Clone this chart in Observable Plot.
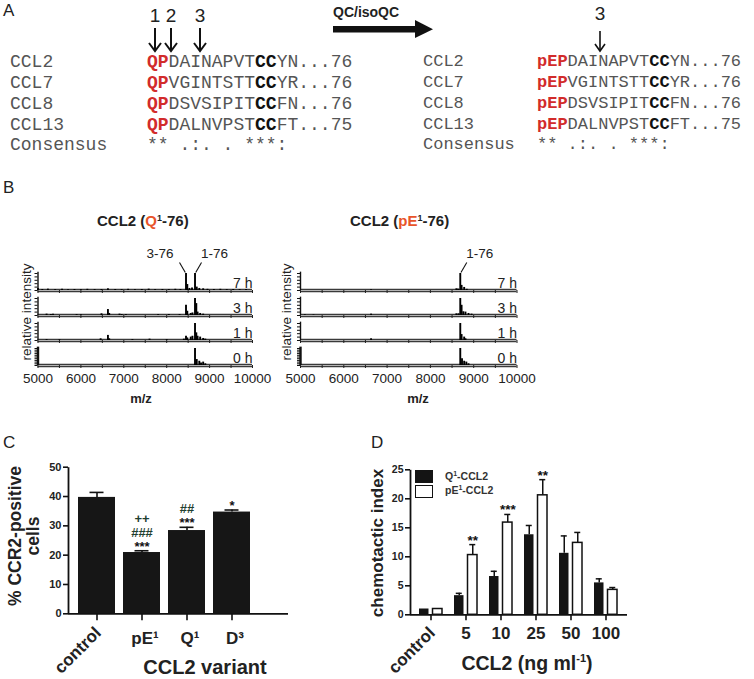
<!DOCTYPE html>
<html><head><meta charset="utf-8">
<script src="https://cdn.jsdelivr.net/npm/d3@7"></script>
<script src="https://cdn.jsdelivr.net/npm/@observablehq/plot@0.6"></script>
<style>
body{margin:0;background:#fff;}
#fig{position:relative;width:754px;height:679px;overflow:hidden;font-family:"Liberation Sans",Arial,sans-serif;color:#222;background:#fff;}
.mono{font-family:"Liberation Mono","Courier New",monospace;color:#555;white-space:pre;line-height:20px;}
.red{color:#d22b2b;font-weight:bold;}
.cc{color:#111;font-weight:bold;}
.lbl{position:absolute;white-space:nowrap;}
svg g[aria-label="y-axis tick label"] text{font-weight:bold;}
</style></head><body><div id="fig"></div>
<script>
// ---------------- data ----------------
const seqNames = ["CCL2", "CCL7", "CCL8", "CCL13"];
const seqMid = ["DAINAPVT", "VGINTSTT", "DSVSIPIT", "DALNVPST"];
const seqTail = ["YN...76", "YR...76", "FN...76", "FT...75"];
const consensusLeft = "** .:. . ***:";
const consensusRight = " ** .:. . ***:";

const timepoints = ["7 h", "3 h", "1 h", "0 h"];
// CCL2 (Q1-76) spectra: [m/z, relative intensity]
const qPeaks7h = [[5000,0.12],[5100,0.06],[5230,0.08],[5400,0.05],[5560,0.07],[5700,0.05],[5850,0.06],[6000,0.05],[6150,0.07],[6320,0.05],[6480,0.06],[6630,0.1],[6800,0.06],[6950,0.05],[7100,0.07],[7260,0.05],[7420,0.06],[7580,0.08],[7730,0.05],[7900,0.06],[8050,0.05],[8200,0.07],[8320,0.06],[8450,1.0],[8480,0.35],[8530,0.12],[8590,0.15],[8660,1.0],[8700,0.2],[8760,0.12],[8850,0.1],[8950,0.07],[9100,0.06],[9250,0.07],[9400,0.05],[9550,0.06],[9700,0.05],[9850,0.06]];
const qPeaks3h = [[5200,0.08],[5300,0.06],[5350,0.08],[5900,0.05],[6000,0.04],[6480,0.1],[6630,0.35],[6660,0.12],[6900,0.08],[6950,0.06],[7050,0.05],[7800,0.05],[8050,0.06],[8300,0.05],[8450,0.6],[8480,0.25],[8560,0.12],[8600,0.15],[8660,1.0],[8690,0.7],[8720,0.2],[8780,0.12],[8850,0.08]];
const qPeaks1h = [[5200,0.05],[5500,0.04],[6460,0.1],[6630,0.3],[6660,0.1],[7200,0.05],[7600,0.08],[8000,0.05],[8400,0.08],[8450,0.25],[8480,0.15],[8560,0.2],[8600,0.25],[8660,1.0],[8690,0.45],[8720,0.25],[8780,0.2],[8850,0.12],[8900,0.08]];
const qPeaks0h = [[8660,1.0],[8700,0.35],[8760,0.25],[8800,0.15],[8850,0.2],[8900,0.1]];
// CCL2 (pE1-76) spectra
const ePeaks7h = [[6630,0.04],[8600,0.1],[8640,0.08],[8690,1.0],[8720,0.3],[8780,0.18],[8840,0.07]];
const ePeaks3h = [[5100,0.04],[5300,0.03],[6630,0.08],[8600,0.1],[8650,0.1],[8690,1.0],[8720,0.6],[8760,0.22],[8810,0.2],[8880,0.12],[8950,0.08]];
const ePeaks1h = [[6630,0.1],[8690,1.0],[8720,0.35],[8780,0.2],[8810,0.1]];
const ePeaks0h = [[8690,1.0],[8730,0.4],[8780,0.25],[8830,0.2],[8880,0.1]];
const qLabels = [{mz: 8450, text: "3-76", side: -1}, {mz: 8660, text: "1-76", side: 1}];
const eLabels = [{mz: 8690, text: "1-76", side: 1}];

// Panel C
const variants = ["control", "pE¹", "Q¹", "D³"];
const ccr2Mean = [39.7, 20.9, 28.4, 34.7];
const ccr2Err = [1.7, 0.6, 1.1, 0.7];
const ccr2Sig = [[], ["***", "###", "++"], ["***", "##"], ["*"]];

// Panel D
const doses = ["control", "5", "10", "25", "50", "100"];
const q1Mean = [1.0, 3.3, 6.6, 13.8, 10.6, 5.5];
const q1Err = [0, 0.4, 0.9, 1.6, 3.0, 0.7];
const pe1Mean = [1.0, 10.3, 15.9, 20.6, 12.4, 4.3];
const pe1Err = [0, 1.8, 1.4, 2.7, 1.8, 0.4];
const pe1Sig = ["", "**", "***", "**", "", ""];

// ---------------- helpers ----------------
const fig = document.getElementById("fig");
function el(css, html, cls) {
  const e = document.createElement("div");
  e.className = "lbl" + (cls ? " " + cls : "");
  e.style.cssText += css;
  e.innerHTML = html;
  fig.appendChild(e);
  return e;
}
function place(svg, left, top) {
  svg.style.position = "absolute";
  svg.style.left = left + "px";
  svg.style.top = top + "px";
  fig.appendChild(svg);
}
const baseStyle = {fontFamily: "Liberation Sans, Arial, sans-serif", color: "#222", background: "none", overflow: "visible", maxWidth: "none"};

// ---------------- Panel A ----------------
el("left:3px;top:1px;font-size:17px;", "A");
const rowCenters = [62, 83, 104, 124.5, 145];
seqNames.forEach((n, i) => {
  el(`left:10px;top:${rowCenters[i] - 10}px;font-size:18px;`, n, "mono");
  el(`left:147px;top:${rowCenters[i] - 10}px;font-size:18px;`,
    `<span class="red">QP</span>${seqMid[i]}<span class="cc">CC</span>${seqTail[i]}`, "mono");
  el(`left:423px;top:${rowCenters[i] - 10}px;font-size:17px;`, n, "mono");
  el(`left:537px;top:${rowCenters[i] - 10}px;font-size:17px;`,
    `<span class="red">pEP</span>${seqMid[i]}<span class="cc">CC</span>${seqTail[i]}`, "mono");
});
el(`left:10px;top:${rowCenters[4] - 10}px;font-size:18px;`, "Consensus", "mono");
el(`left:147px;top:${rowCenters[4] - 10}px;font-size:18px;`, consensusLeft, "mono");
el(`left:423px;top:${rowCenters[4] - 10}px;font-size:17px;`, "Consensus", "mono");
el(`left:537px;top:${rowCenters[4] - 10}px;font-size:17px;`, consensusRight, "mono");
// cleavage arrows
[[155, "1"], [171, "2"], [200, "3"]].forEach(([x, t]) => el(`left:${x - 6}px;top:5px;font-size:19px;width:12px;text-align:center;`, t));
el(`left:594px;top:3px;font-size:19px;width:12px;text-align:center;`, "3");
el(`left:333px;top:4px;font-size:14px;font-weight:bold;`, "QC/isoQC");
const aSvg = document.createElementNS("http://www.w3.org/2000/svg", "svg");
aSvg.setAttribute("width", 754); aSvg.setAttribute("height", 60);
aSvg.style.cssText = "position:absolute;left:0;top:0;";
let s = "";
[155, 171, 200].forEach(x => {
  s += `<line x1="${x}" y1="28" x2="${x}" y2="51" stroke="#111" stroke-width="2"/>`;
  s += `<polyline points="${x - 6},43 ${x},51 ${x + 6},43" fill="none" stroke="#111" stroke-width="2"/>`;
});
s += `<line x1="600" y1="31" x2="600" y2="51" stroke="#111" stroke-width="1.6"/>`;
s += `<polyline points="595,44 600,51 605,44" fill="none" stroke="#111" stroke-width="1.6"/>`;
s += `<rect x="333" y="26" width="84" height="6.5" fill="#111"/>`;
s += `<polygon points="415,20 433,29.2 415,38" fill="#111"/>`;
aSvg.innerHTML = s;
fig.appendChild(aSvg);

// ---------------- Panel B ----------------
el("left:3px;top:178px;font-size:17px;", "B");
el("left:97px;top:212px;font-size:15px;font-weight:bold;", `CCL2 (<span style="color:#e8542a">Q</span><span style="font-size:9px;vertical-align:5px">1</span>-76)`);
el("left:350px;top:212px;font-size:15px;font-weight:bold;", `CCL2 (<span style="color:#e8542a">pE</span><span style="font-size:9px;vertical-align:5px">1</span>-76)`);
el("left:26px;top:312px;font-size:13.5px;transform:translate(-50%,-50%) rotate(-90deg);", "relative intensity");
el("left:286px;top:312px;font-size:13.5px;transform:translate(-50%,-50%) rotate(-90deg);", "relative intensity");
el("left:141px;top:398px;font-size:13px;font-weight:bold;transform:translate(-50%,-50%);", "m/z");
el("left:418px;top:398px;font-size:13px;font-weight:bold;transform:translate(-50%,-50%);", "m/z");

const baselines = [290, 315, 340, 365];
const stripH = 17;
function strip(peaks, o) {
  const mr = 23;
  const width = o.ml + o.range + mr;
  const height = o.mt + stripH + o.mb;
  const pxX = 5000 / o.range, pxY = 1 / stripH;
  const marks = [
    Plot.ruleY([0], {stroke: "#3a3a3a", strokeWidth: 3.6}),
    Plot.ruleY([0], {stroke: "#b4b4b4", strokeWidth: 1.2}),
    Plot.axisX({ticks: 10, tickSize: 3, tickPadding: 5, label: null, tickFormat: o.bottom ? (d => d % 1000 ? "" : String(d)) : () => "", fontSize: 13.5, stroke: "#222"}),
    Plot.axisY({ticks: o.dense ? 12 : 6, tickSize: 3, label: null, tickFormat: () => "", stroke: "#111"}),
    Plot.ruleX([5000], {y1: 0, y2: 1.08, stroke: "#111", strokeWidth: o.dense ? 2.4 : 1.4}),
    Plot.ruleX(peaks, {x: d => d[0], y1: 0, y2: d => d[1], stroke: "#000", strokeWidth: 1.9}),
    Plot.text([o.label], {frameAnchor: "bottom-right", dy: -2.5, fontSize: 14, fill: "#222"})
  ];
  if (o.labels) {
    marks.push(Plot.link(o.labels, {
      x1: d => d.mz + d.side * 6.5 * pxX, y1: 1 + 11 * pxY,
      x2: d => d.mz + d.side * 0.7 * pxX, y2: 1 + 1 * pxY,
      stroke: "#111", strokeWidth: 1.1
    }));
    marks.push(Plot.text(o.labels, {
      x: d => d.mz + d.side * (d.side < 0 ? 26 : 19.5) * pxX, y: 1 + 20 * pxY,
      text: "text", fontSize: 13.5, fill: "#222"
    }));
  }
  return Plot.plot({
    width, height, marginLeft: o.ml, marginRight: mr, marginTop: o.mt, marginBottom: o.mb,
    x: {domain: [5000, 10000], axis: null},
    y: {domain: [0, 1], axis: null},
    style: {...baseStyle, fontSize: "13px"},
    marks
  });
}
const qSets = [qPeaks7h, qPeaks3h, qPeaks1h, qPeaks0h];
const eSets = [ePeaks7h, ePeaks3h, ePeaks1h, ePeaks0h];
timepoints.forEach((t, i) => {
  const mt = i === 0 ? 32 : 4;
  const mb = i === 3 ? 26 : 5;
  const top = baselines[i] - stripH - mt;
  place(strip(qSets[i], {ml: 37.5, range: 214.5, mt, mb, label: t, bottom: i === 3, dense: i === 3, labels: i === 0 ? qLabels : null}), 0, top);
  place(strip(eSets[i], {ml: 38, range: 216.5, mt, mb, label: t, bottom: i === 3, dense: i === 3, labels: i === 0 ? eLabels : null}), 262, top);
});

// ---------------- Panel C ----------------
el("left:3px;top:433px;font-size:17px;", "C");
const cW = 300, cH = 229, cML = 68, cMR = 12, cMT = 16.7, cMB = 65.7;
const cData = variants.map((v, i) => ({v, m: ccr2Mean[i], e: ccr2Err[i]}));
const cSig = [];
ccr2Sig.forEach((arr, i) => arr.forEach((t, r) => cSig.push({v: variants[i], y: ccr2Mean[i] + ccr2Err[i], text: t, row: r, fill: t.startsWith("*") ? "#111" : "#1f4030"})));
const rowDy = [0, -14, -28];
const cFW = cW - cML - cMR, cFH = cH - cMT - cMB;
const plotC = Plot.plot({
  width: cW, height: cH, marginLeft: cML, marginRight: cMR, marginTop: cMT, marginBottom: cMB,
  x: {domain: variants, range: [69.5, 258], padding: 0.17, axis: null, label: null},
  y: {domain: [0, 50], axis: null, label: null},
  style: {...baseStyle, fontSize: "11px"},
  marks: [
    Plot.ruleX(cData, {x: "v", y1: "m", y2: d => d.m + d.e, stroke: "#111", strokeWidth: 1.6}),
    Plot.tickY(cData, {x: "v", y: d => d.m + d.e, stroke: "#111", strokeWidth: 1.6, insetLeft: 11.5, insetRight: 11.5}),
    Plot.barY(cData, {x: "v", y: "m", fill: "#161616"}),
    Plot.frame({stroke: "#111", strokeWidth: 1.8, strokeDasharray: `0 ${2 * cFW + cFH} ${cFH}`}),
    Plot.ruleY([0], {stroke: "#111", strokeWidth: 1.8}),
    Plot.axisX({tickSize: 7, label: null, tickFormat: () => "", stroke: "#111", strokeWidth: 1.6}),
    Plot.axisY({ticks: 5, tickSize: 5, tickPadding: 2, label: null, fontSize: 11, fontWeight: "bold", stroke: "#111", strokeWidth: 1.6}),
    ...rowDy.map((dy, r) => Plot.text(cSig.filter(d => d.row === r), {x: "v", y: "y", text: "text", fill: "fill", dy, lineAnchor: "bottom", fontSize: 13, fontWeight: "bold"})),
    Plot.text(cData.filter(d => d.v !== "control"), {x: "v", text: "v", frameAnchor: "bottom", dy: 30, dx: 3, fontSize: 17, fontWeight: "bold", fill: "#222"}),
    Plot.text(cData.filter(d => d.v === "control"), {x: "v", text: "v", frameAnchor: "bottom", dy: 20, dx: 5, rotate: -45, textAnchor: "end", fontSize: 17, fontWeight: "bold", fill: "#222"})
  ]
});
place(plotC, 0, 450);
el("left:205px;top:667px;font-size:20px;font-weight:bold;transform:translate(-50%,-50%);", "CCL2 variant");
el("left:24px;top:536px;font-size:17.5px;font-weight:bold;line-height:18px;text-align:center;transform:translate(-50%,-50%) rotate(-90deg);", "% CCR2-positive<br>cells");

// ---------------- Panel D ----------------
el("left:371px;top:433px;font-size:17px;", "D");
const dW = 270, dH = 229, dML = 40, dMR = 13, dMT = 19.3, dMB = 64.7;
const dFW = dW - dML - dMR, dFH = dH - dMT - dMB;
const dData = doses.map((dose, i) => ({dose, qm: q1Mean[i], qe: q1Err[i], pm: pe1Mean[i], pe: pe1Err[i], sig: pe1Sig[i]}));
const plotD = Plot.plot({
  width: dW, height: dH, marginLeft: dML, marginRight: dMR, marginTop: dMT, marginBottom: dMB,
  x: {domain: doses, padding: 0.05, axis: null, label: null},
  y: {domain: [0, 25], axis: null, label: null},
  style: {...baseStyle, fontSize: "10.5px"},
  marks: [
    Plot.ruleX(dData.filter(d => d.qe > 0), {x: "dose", y1: "qm", y2: d => d.qm + d.qe, dx: -6.75, stroke: "#111", strokeWidth: 1.5}),
    Plot.tickY(dData.filter(d => d.qe > 0), {x: "dose", y: d => d.qm + d.qe, dx: -6.75, insetLeft: 13.5, insetRight: 13.5, stroke: "#111", strokeWidth: 1.5}),
    Plot.ruleX(dData.filter(d => d.pe > 0), {x: "dose", y1: "pm", y2: d => d.pm + d.pe, dx: 6.75, stroke: "#111", strokeWidth: 1.5}),
    Plot.tickY(dData.filter(d => d.pe > 0), {x: "dose", y: d => d.pm + d.pe, dx: 6.75, insetLeft: 13.5, insetRight: 13.5, stroke: "#111", strokeWidth: 1.5}),
    Plot.barY(dData, {x: "dose", y: "qm", fill: "#141414", insetLeft: 5, insetRight: 18.5}),
    Plot.barY(dData, {x: "dose", y: "pm", fill: "white", stroke: "#111", strokeWidth: 1.5, insetLeft: 18.5, insetRight: 5}),
    Plot.frame({stroke: "#111", strokeWidth: 1.8, strokeDasharray: `0 ${2 * dFW + dFH} ${dFH}`}),
    Plot.ruleY([0], {stroke: "#111", strokeWidth: 1.8}),
    Plot.axisX({tickSize: 6, label: null, tickFormat: () => "", stroke: "#111", strokeWidth: 1.6}),
    Plot.axisY({ticks: 5, tickSize: 5, tickPadding: 2, label: null, fontSize: 10.5, fontWeight: "bold", stroke: "#111", strokeWidth: 1.6}),
    Plot.text(dData.filter(d => d.sig), {x: "dose", y: d => d.pm + d.pe, text: "sig", dx: 6.75, dy: 0, lineAnchor: "bottom", fontSize: 13.5, fontWeight: "bold", fill: "#111"}),
    Plot.text(dData.filter(d => d.dose !== "control"), {x: "dose", text: "dose", frameAnchor: "bottom", dy: 24, fontSize: 17, fontWeight: "bold", fill: "#222"}),
    Plot.text(dData.filter(d => d.dose === "control"), {x: "dose", text: "dose", frameAnchor: "bottom", dy: 19, dx: 5, rotate: -45, textAnchor: "end", fontSize: 17, fontWeight: "bold", fill: "#222"})
  ]
});
place(plotD, 370, 450);
el("left:527px;top:663px;font-size:19.5px;font-weight:bold;transform:translate(-50%,-50%);", `CCL2 (ng ml<span style="font-size:11px;vertical-align:8px">-1</span>)`);
el("left:378px;top:543px;font-size:17px;font-weight:bold;transform:translate(-50%,-50%) rotate(-90deg);", "chemotactic index");
// legend
el("left:415px;top:470px;width:18px;height:13px;background:#141414;", "");
el("left:415px;top:485px;width:16px;height:11px;background:#fff;border:1.5px solid #111;", "");
el("left:445px;top:470px;font-size:10.5px;font-weight:bold;color:#333;", `Q<span style="font-size:7px;vertical-align:4px">1</span>-CCL2`);
el("left:445px;top:484px;font-size:10.5px;font-weight:bold;color:#333;", `pE<span style="font-size:7px;vertical-align:4px">1</span>-CCL2`);
</script></body></html>
